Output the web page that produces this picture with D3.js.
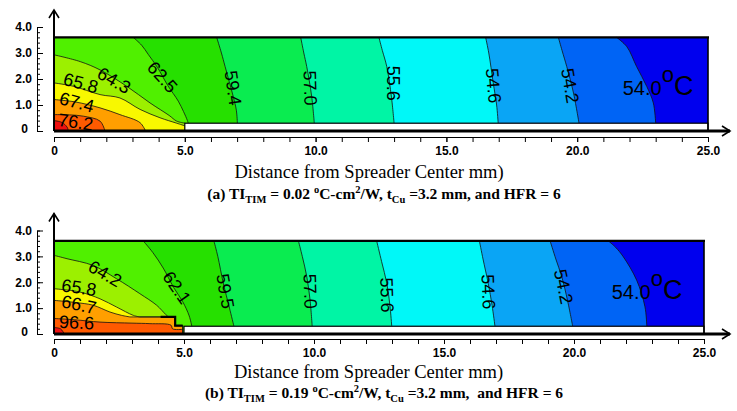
<!DOCTYPE html>
<html>
<head>
<meta charset="utf-8">
<script src="https://d3js.org/d3.v7.min.js"></script>
<style>
  body { margin: 0; background: #fff; }
  .tick text { font-family: "Liberation Sans", Arial, sans-serif; font-weight: bold; font-size: 12px; }
  .clabel { font-family: "Liberation Sans", Arial, sans-serif; font-size: 18px; }
  .axis-title { font-family: "Liberation Serif", "Times New Roman", serif; font-size: 18.5px; }
  .caption { font-family: "Liberation Serif", "Times New Roman", serif; font-size: 15.5px; font-weight: bold; white-space: pre; }
</style>
</head>
<body>
<div id="chart"></div>
<script>
// temperature levels, cold -> hot (last entry is an unlabeled hot spot)
const levelsA = ["54.0", "54.2", "54.6", "55.6", "57.0", "59.4", "62.5", "64.3", "65.8", "67.4", "76.2", ""];
const levelsB = ["54.0", "54.2", "54.6", "55.6", "57.0", "59.5", "62.1", "64.2", "65.8", "66.7", "96.6", ""];

// fill of each band, coldest first (below the first level, then above each level)
const bandColors = ["#0000ee", "#0064f5", "#0aa5f5", "#00f8f8", "#00f5a5", "#0aec50",
                    "#26e000", "#50f000", "#9cf000", "#f8f800", "#ff9f00", "#ff5a00", "#ee1010"];

// contour lines: [distance from center mm, height mm]
const linesA = [
  [[21.51, 3.6], [21.9, 3.24], [22.27, 2.48], [22.66, 1.71], [22.91, 1.08], [23.0, 0.3]],
  [[19.28, 3.6], [19.42, 3.1], [19.6, 2.48], [19.85, 1.5], [20.07, 0.3]],
  [[16.5, 3.6], [16.62, 3.0], [16.79, 1.85], [16.92, 1.0], [16.98, 0.3]],
  [[12.42, 3.6], [12.55, 3.1], [12.72, 2.48], [12.9, 1.3], [13.0, 0.3]],
  [[9.43, 3.6], [9.55, 3.0], [9.66, 2.48], [9.85, 1.33], [9.95, 0.3]],
  [[6.22, 3.6], [6.4, 3.0], [6.54, 2.48], [6.85, 1.33], [6.97, 0.8], [7.01, 0.3]],
  [[3.03, 3.6], [3.35, 3.3], [3.6, 2.95], [3.95, 2.45], [4.35, 1.75], [4.75, 1.15], [4.95, 0.75], [5.1, 0.4], [5.13, 0.3]],
  [[0, 2.93], [1.0, 2.67], [1.76, 2.35], [2.78, 1.72], [3.67, 1.08], [4.4, 0.6], [4.69, 0.38], [5.0, 0.3]],
  [[0, 1.85], [0.74, 1.72], [1.76, 1.40], [2.52, 1.27], [3.29, 0.83], [4.05, 0.51], [4.69, 0.3], [5.0, 0.2]],
  [[0, 1.21], [0.8, 1.12], [1.76, 0.89], [2.52, 0.63], [3.29, 0.32], [3.5, 0]],
  [[0, 0.63], [0.6, 0.62], [1.12, 0.57], [1.76, 0.38], [1.95, 0]],
  [[0, 0.4], [0.3, 0.33], [0.5, 0.15], [0.55, 0]]
];
const linesB = [
  [[21.32, 3.6], [21.6, 3.35], [21.9, 2.98], [22.41, 2.08], [22.73, 1.05], [22.8, 0.3]],
  [[19.08, 3.6], [19.3, 2.9], [19.53, 2.21], [19.75, 1.3], [19.95, 0.3]],
  [[16.36, 3.6], [16.5, 2.9], [16.7, 1.96], [16.85, 1.1], [16.96, 0.3]],
  [[12.41, 3.6], [12.6, 2.8], [12.8, 1.96], [12.92, 1.1], [12.99, 0.3]],
  [[9.4, 3.6], [9.55, 3.0], [9.72, 2.23], [9.85, 1.3], [9.93, 0.3]],
  [[6.15, 3.6], [6.3, 3.0], [6.51, 1.97], [6.75, 1.0], [6.92, 0.3]],
  [[3.43, 3.6], [3.8, 3.15], [4.2, 2.55], [4.6, 1.8], [4.95, 1.25], [5.2, 0.7], [5.3, 0.3]],
  [[0, 3.04], [0.5, 2.91], [1.5, 2.65], [2.4, 2.14], [3.3, 1.56], [3.95, 1.11], [4.3, 0.75], [4.4, 0.66]],
  [[0, 1.75], [1.0, 1.62], [1.77, 1.36], [2.41, 1.04], [3.05, 0.72], [3.3, 0.66]],
  [[0, 1.30], [0.8, 1.22], [1.51, 1.11], [2.15, 0.85], [2.6, 0.72], [2.92, 0.66]],
  [[0, 0.6], [0.8, 0.55], [1.77, 0.46], [3.0, 0.42], [3.69, 0.40], [4.5, 0.34], [4.56, 0.2], [4.95, 0.18]],
  [[0, 0.25], [0.25, 0.2], [0.4, 0]]
];
// straight step that some (b) lines follow around the heat source corner
const stepB = [[4.66, 0.66], [4.66, 0.32], [4.95, 0.32], [4.95, 0]];
const stepUseB = [false, false, false, false, false, false, false, false, true, true, false, false];

// label anchors [x mm, y mm, angle deg]
const labelsA = [
  [21.74, 1.40, 0], [19.72, 1.74, 80], [16.79, 1.74, 85], [12.97, 1.84, 90], [9.79, 1.65, 88],
  [6.84, 1.65, 82], [4.14, 2.07, 48], [2.29, 1.94, 30], [1.02, 1.84, 15], [0.87, 1.10, 15],
  [0.83, 0.34, 8], null
];
const labelsB = [
  [21.45, 1.34, 0], [19.59, 1.83, 78], [16.7, 1.63, 88], [12.8, 1.51, 88], [9.85, 1.65, 88],
  [6.58, 1.65, 80], [4.72, 1.79, 55], [1.96, 2.33, 30], [0.96, 1.79, 8], [0.96, 1.13, 12],
  [0.87, 0.44, 3], null
];

const xTicks = [0, 5, 10, 15, 20, 25];
const xTickLabels = ["0", "5.0", "10.0", "15.0", "20.0", "25.0"];
const yTicks = [0, 1, 2, 3, 4];
const yTickLabels = ["0", "1.0", "2.0", "3.0", "4.0"];

// spreader geometry (mm)
const spreaderTop = 3.6, sourceEdge = 5, spreaderBase = 0.3, spreaderEnd = 25;

const captionA = ["(a) TI", ["TIM", "sub"], " = 0.02 ", ["o", "sup"], "C-cm", ["2", "sup"], "/W, t", ["Cu", "sub"], " =3.2 mm, and HFR = 6"];
const captionB = ["(b) TI", ["TIM", "sub"], " = 0.19 ", ["o", "sup"], "C-cm", ["2", "sup"], "/W, t", ["Cu", "sub"], " =3.2 mm,  and HFR = 6"];

const svg = d3.select("#chart").append("svg")
  .attr("width", 737).attr("height", 411);

function drawPanel(opt) {
  const x = d3.scaleLinear().domain([0, 25]).range(opt.xr);
  const y = d3.scaleLinear().domain([0, 4]).range(opt.yr);
  const g = svg.append("g");

  const smooth = d3.line().x(d => x(d[0])).y(d => y(d[1])).curve(d3.curveCatmullRom.alpha(0.5));
  const straight = pts => pts.map(p => `L${x(p[0])},${y(p[1])}`).join("");

  // region on the hot side of a contour
  function hotPath(pts, tail) {
    let s = smooth(pts);
    const extra = [];
    if (tail) extra.push(...tail);
    const last = extra.length ? extra[extra.length - 1] : pts[pts.length - 1];
    if (last[0] > sourceEdge) extra.push([sourceEdge, spreaderBase], [sourceEdge, 0]);
    else if (last[1] > 0) extra.push([last[0], 0]);
    extra.push([0, 0]);
    if (pts[0][0] > 0) extra.push([0, spreaderTop]);
    return s + straight(extra) + "Z";
  }

  // coldest band covers the whole spreader
  g.append("rect")
    .attr("x", x(0)).attr("y", y(spreaderTop))
    .attr("width", x(spreaderEnd) - x(0)).attr("height", y(0) - y(spreaderTop))
    .attr("fill", bandColors[0]);

  g.selectAll("path.band").data(opt.lines).enter().append("path")
    .attr("class", "band")
    .attr("d", (d, i) => hotPath(d, opt.steps && opt.steps[i] ? stepB : null))
    .attr("fill", (d, i) => bandColors[i + 1]);

  g.selectAll("path.iso").data(opt.lines).enter().append("path")
    .attr("class", "iso")
    .attr("d", (d, i) => smooth(d) + (opt.steps && opt.steps[i] ? straight(stepB) : ""))
    .attr("fill", "none").attr("stroke", "#111").attr("stroke-width", 0.8);

  if (opt.steps) {
    g.append("path")
      .attr("d", `M${x(4.1)},${y(0.66)}` + straight(stepB.slice(0, 3)))
      .attr("fill", "none").attr("stroke", "#000").attr("stroke-width", 2.2);
  }

  // region below the spreader outside the heat source
  g.append("rect")
    .attr("x", x(sourceEdge)).attr("y", y(spreaderBase))
    .attr("width", x(spreaderEnd) - x(sourceEdge)).attr("height", y(0) - y(spreaderBase))
    .attr("fill", "#fff").attr("stroke", "#000").attr("stroke-width", 1.2);

  g.append("line")
    .attr("x1", x(0)).attr("x2", x(spreaderEnd) + 1)
    .attr("y1", y(spreaderTop)).attr("y2", y(spreaderTop))
    .attr("stroke", "#000").attr("stroke-width", 2.2);
  g.append("line")
    .attr("x1", x(spreaderEnd)).attr("x2", x(spreaderEnd))
    .attr("y1", y(0)).attr("y2", y(spreaderTop))
    .attr("stroke", "#000").attr("stroke-width", 1.6);

  // arrows
  const ax = x(0), ay = y(0);
  const tipY = y(4) - 17, tipX = 730;
  g.append("line").attr("x1", ax).attr("x2", ax).attr("y1", ay).attr("y2", tipY)
    .attr("stroke", "#000").attr("stroke-width", 2);
  g.append("path").attr("d", `M${ax - 5},${tipY + 8}L${ax},${tipY}L${ax + 5},${tipY + 8}`)
    .attr("fill", "none").attr("stroke", "#000").attr("stroke-width", 1.6);
  g.append("line").attr("x1", ax).attr("x2", tipX).attr("y1", ay).attr("y2", ay)
    .attr("stroke", "#000").attr("stroke-width", 3);
  g.append("path").attr("d", `M${tipX - 8},${ay - 5}L${tipX},${ay}L${tipX - 8},${ay + 5}`)
    .attr("fill", "none").attr("stroke", "#000").attr("stroke-width", 1.6);

  // x axis with minor ticks every mm
  const xa = g.append("g").attr("transform", `translate(0,${ay + opt.tickGap})`);
  xa.call(d3.axisBottom(x).tickValues(d3.range(0, 26, 1)).tickSize(5).tickSizeOuter(0).tickFormat(""));
  xa.append("g").call(d3.axisBottom(x).tickValues(xTicks).tickSize(5).tickSizeOuter(0)
    .tickPadding(opt.labelPad).tickFormat((d, i) => xTickLabels[i]));
  xa.selectAll(".domain").attr("stroke-width", 1);

  // y axis, ticks pointing into the plot
  const ya = g.append("g").attr("transform", `translate(37,0)`);
  ya.call(d3.axisLeft(y).tickValues(d3.range(0, 4.01, 0.2)).tickSizeInner(-3).tickSizeOuter(0).tickFormat(""));
  ya.append("g").call(d3.axisLeft(y).tickValues(yTicks).tickSizeInner(-6).tickSizeOuter(0)
    .tickPadding(5).tickFormat((d, i) => yTickLabels[i]));
  ya.selectAll(".tick text").filter(d => d === 0).attr("dy", "0.1em").attr("x", -9);

  // contour labels
  opt.labels.forEach((lb, i) => {
    if (!lb) return;
    if (i === 0) {
      const t = g.append("text").attr("class", "clabel")
        .attr("x", x(lb[0])).attr("y", y(lb[1]));
      t.append("tspan").style("font-size", "20px").text(opt.levels[i]);
      t.append("tspan").style("font-size", "22px").attr("dy", -13).text("o");
      t.append("tspan").style("font-size", "27px").attr("dy", 13).text("C");
      return;
    }
    g.append("text").attr("class", "clabel")
      .attr("transform", `translate(${x(lb[0])},${y(lb[1])}) rotate(${lb[2]})`)
      .attr("text-anchor", "middle").attr("dominant-baseline", "central")
      .text(opt.levels[i]);
  });

  g.append("text").attr("class", "axis-title")
    .attr("x", opt.titleX).attr("y", opt.titleY).attr("text-anchor", "middle")
    .text("Distance from Spreader Center mm)");

  const cap = g.append("text").attr("class", "caption")
    .attr("x", 384).attr("y", opt.capY).attr("text-anchor", "middle");
  let shift = 0;
  opt.caption.forEach(p => {
    const [s, kind] = Array.isArray(p) ? p : [p, ""];
    const target = kind === "sub" ? 4 : kind === "sup" ? -6 : 0;
    const ts = cap.append("tspan").attr("dy", target - shift).text(s);
    if (kind) ts.style("font-size", "10.5px");
    shift = target;
  });
}

drawPanel({ xr: [54, 708], yr: [131, 27], lines: linesA, levels: levelsA, labels: labelsA,
  tickGap: 6, labelPad: 4, titleX: 369, titleY: 178, capY: 198.5, caption: captionA });
drawPanel({ xr: [54, 704], yr: [334, 230.5], lines: linesB, levels: levelsB, labels: labelsB,
  steps: stepUseB, tickGap: 5, labelPad: 4, titleX: 368.5, titleY: 378, capY: 398, caption: captionB });
</script>
</body>
</html>
